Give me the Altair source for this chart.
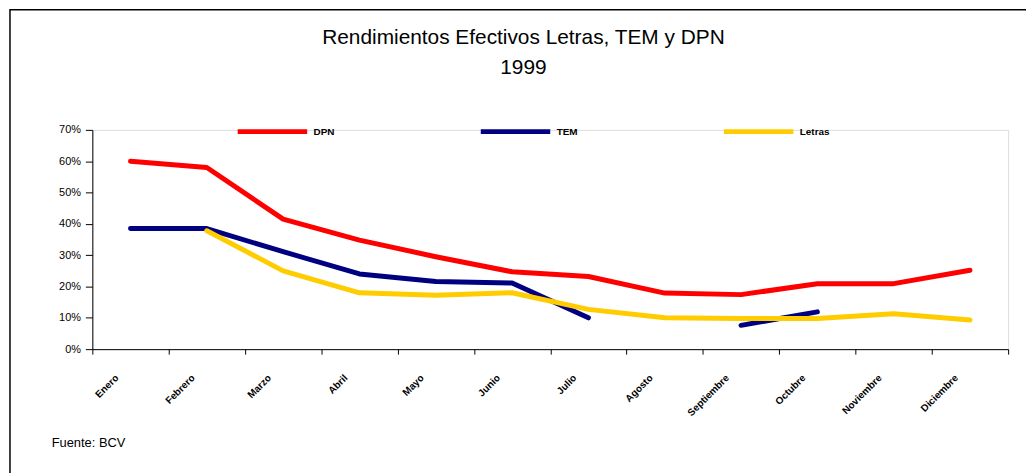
import altair as alt
import pandas as pd

months = ["Enero", "Febrero", "Marzo", "Abril", "Mayo", "Junio", "Julio",
          "Agosto", "Septiembre", "Octubre", "Noviembre", "Diciembre"]
series_names = ["DPN", "TEM", "Letras"]
series_colors = ["#FF0000", "#000080", "#FFCC00"]

dpn = [0.600, 0.580, 0.415, 0.348, 0.295, 0.247, 0.232, 0.179, 0.174, 0.209, 0.209, 0.252]
tem = [0.385, 0.385, 0.311, 0.240, 0.216, 0.211, 0.100, None, 0.076, 0.119, None, None]
letras = [None, 0.378, 0.250, 0.180, 0.172, 0.180, 0.127, 0.100, 0.098, 0.098, 0.113, 0.093]

title_lines = ["Rendimientos Efectivos Letras, TEM y DPN", "1999"]
source_note = ["Fuente: BCV"]

rows = []
for name, vals in zip(series_names, [dpn, tem, letras]):
    for m, v in zip(months, vals):
        rows.append({"mes": m, "serie": name, "valor": v})
df = pd.DataFrame(rows)

W, H = 923, 221
FONT = "Liberation Sans"

lines = alt.Chart(df).mark_line(
    strokeWidth=5, strokeCap="round", strokeJoin="round",
    invalid="break-paths-show-domains"
).encode(
    x=alt.X("mes:N", sort=months, bandPosition=0.5,
            scale=alt.Scale(type="band", paddingInner=0, paddingOuter=0),
            axis=alt.Axis(title=None, labelAngle=-45, labelAlign="right",
                          labelBaseline="middle", labelPadding=22, labelOffset=-14,
                          labelFontSize=10, labelFontWeight="bold", labelFont=FONT,
                          labelColor="black", tickBand="extent", tickSize=5,
                          tickColor="black", domainColor="black", labelOverlap=False)),
    y=alt.Y("valor:Q", scale=alt.Scale(domain=[0, 0.7], nice=False, zero=True),
            axis=alt.Axis(title=None, format=".0%", values=[0, 0.1, 0.2, 0.3, 0.4, 0.5, 0.6, 0.7],
                          grid=False, tickSize=7, tickColor="black", domainColor="black",
                          labelFontSize=11, labelFont=FONT, labelColor="black", labelPadding=5)),
    color=alt.Color("serie:N", scale=alt.Scale(domain=series_names, range=series_colors),
                    legend=alt.Legend(title=None, orient="none", direction="horizontal",
                                      columns=3, gridAlign="all", legendX=144, legendY=-36,
                                      symbolType="stroke", symbolSize=4900, symbolStrokeWidth=5,
                                      labelFontSize=10, labelFontWeight="bold", labelFont=FONT,
                                      labelColor="black", labelOffset=4, columnPadding=127,
                                      padding=0)),
    order=alt.Order("serie_order:Q"),
).transform_calculate(
    serie_order="indexof(['DPN','TEM','Letras'], datum.serie)"
)

frame = alt.Chart(pd.DataFrame({"k": [0]})).mark_rect(
    fillOpacity=0, stroke="black", strokeWidth=1.5
).encode(
    x=alt.value(-83), x2=alt.value(960), y=alt.value(-121), y2=alt.value(400)
)

note = alt.Chart(pd.DataFrame({"t": source_note})).mark_text(
    align="left", baseline="alphabetic", fontSize=13, font=FONT, color="black"
).encode(
    text="t:N", x=alt.value(-41), y=alt.value(320)
)

chart = alt.layer(frame, lines, note).properties(
    width=W, height=H,
    title=alt.TitleParams(text=title_lines, fontSize=21, fontWeight="normal", font=FONT,
                          color="black", anchor="middle", frame="group", dx=-27,
                          offset=14, dy=83, lineHeight=30),
    padding={"left": 85, "top": 121, "right": 18, "bottom": 123},
    autosize=alt.AutoSizeParams(type="none"),
).configure_view(stroke=None).configure(background="white")

chart.save("out.html", embed_options={"renderer": "svg", "actions": False})
